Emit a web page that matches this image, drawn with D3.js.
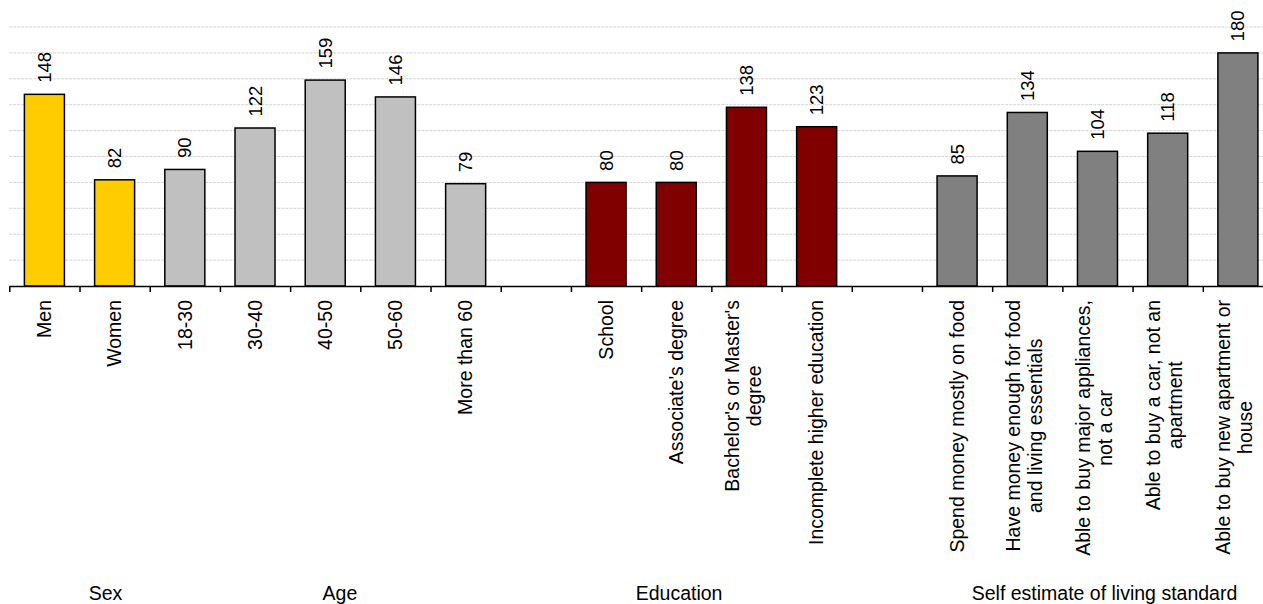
<!DOCTYPE html>
<html>
<head>
<meta charset="utf-8">
<script src="https://cdn.jsdelivr.net/npm/d3@7"></script>
<style>
  body { margin: 0; background: #fff; }
  svg { display: block; font-family: "Liberation Sans", Arial, sans-serif; }
</style>
</head>
<body>
<div id="chart"></div>
<script>
// data
var categories = [
  ['Men'], ['Women'], ['18-30'], ['30-40'], ['40-50'], ['50-60'], ['More than 60'], [],
  ['School'], ["Associate's degree"], ["Bachelor's or Master's", 'degree'], ['Incomplete higher education'], [],
  ['Spend money mostly on food'], ['Have money enough for food', 'and living essentials'],
  ['Able to buy major appliances,', 'not a car'], ['Able to buy a car, not an', 'apartment'],
  ['Able to buy new apartment or', 'house']
];
var values = [148, 82, 90, 122, 159, 146, 79, null, 80, 80, 138, 123, null, 85, 134, 104, 118, 180];
var groupOf = [0, 0, 1, 1, 1, 1, 1, -1, 2, 2, 2, 2, -1, 3, 3, 3, 3, 3];
var groupNames = ['Sex', 'Age', 'Education', 'Self estimate of living standard'];
var groupColors = ['#FFCC00', '#C0C0C0', '#800000', '#808080'];
var yTicks = [20, 40, 60, 80, 100, 120, 140, 160, 180, 200];

// layout
var W = 1263, H = 604;
var left = 9.3, right = 1273, axisY = 286, topY = 27;
var groupLabelAt = [1.37, 4.71, 9.54, 15.6]; // in category steps
var n = categories.length;

var svg = d3.select('#chart').append('svg')
  .attr('width', W)
  .attr('height', H);

var x = d3.scaleBand().domain(d3.range(n)).range([left, right])
  .paddingInner(0.43).paddingOuter(0.215);
var xEdge = d3.scaleLinear().domain([0, n]).range([left, right]);
var y = d3.scaleLinear().domain([0, 200]).range([axisY, topY]);

// gridlines
svg.append('g')
  .selectAll('line')
  .data(yTicks)
  .enter()
  .append('line')
  .attr('x1', left).attr('x2', W)
  .attr('y1', function(d){ return y(d); })
  .attr('y2', function(d){ return y(d); })
  .attr('stroke', '#d4d4d4')
  .attr('stroke-dasharray', '3,1');

// bars
var idx = d3.range(n).filter(function(i){ return values[i] != null; });
svg.append('g')
  .selectAll('rect')
  .data(idx)
  .enter()
  .append('rect')
  .attr('x', function(i){ return x(i); })
  .attr('y', function(i){ return y(values[i]); })
  .attr('width', x.bandwidth())
  .attr('height', function(i){ return axisY - y(values[i]); })
  .attr('fill', function(i){ return groupColors[groupOf[i]]; })
  .attr('stroke', '#000')
  .attr('stroke-width', 1.5);

// value labels
svg.append('g')
  .selectAll('text')
  .data(idx)
  .enter()
  .append('text')
  .attr('transform', function(i){
    return 'translate(' + (x(i) + x.bandwidth() / 2) + ',' + (y(values[i]) - 11.5) + ') rotate(-90)';
  })
  .attr('dy', '0.35em')
  .style('font-size', '18.5px')
  .text(function(i){ return values[i]; });

// x axis with ticks on category edges
var xAxis = d3.axisBottom(xEdge)
  .tickValues(d3.range(n + 1))
  .tickFormat('')
  .tickSizeInner(6)
  .tickSizeOuter(0);
var ax = svg.append('g')
  .attr('transform', 'translate(0,' + axisY + ')')
  .call(xAxis);
ax.select('.domain').attr('stroke-width', 1.5);
ax.selectAll('.tick line').attr('stroke-width', 1.5);

// category labels (rotated, multi-line centred)
var fs = 19.5, lh = 22;
idx = d3.range(n).filter(function(i){ return categories[i].length; });
idx.forEach(function(i){
  var lines = categories[i];
  var g = svg.append('g')
    .attr('transform', 'translate(' + (x(i) + x.bandwidth() / 2) + ',300) rotate(-90)');
  var t = g.append('text').style('font-size', fs + 'px');
  var shift = lines.length > 1 ? 0.18 * fs : 0.35 * fs;
  lines.forEach(function(s, k){
    t.append('tspan')
      .attr('x', 0)
      .attr('y', shift + (k - (lines.length - 1) / 2) * lh)
      .text(s);
  });
  var maxW = d3.max(t.selectAll('tspan').nodes(), function(nd){ return nd.getComputedTextLength(); });
  t.selectAll('tspan')
    .attr('x', -maxW / 2)
    .attr('text-anchor', 'middle');
});

// group labels
svg.append('g')
  .selectAll('text')
  .data(groupNames)
  .enter()
  .append('text')
  .attr('x', function(d, k){ return xEdge(groupLabelAt[k]); })
  .attr('y', 600)
  .attr('text-anchor', 'middle')
  .style('font-size', '19.5px')
  .text(function(d){ return d; });
</script>
</body>
</html>
